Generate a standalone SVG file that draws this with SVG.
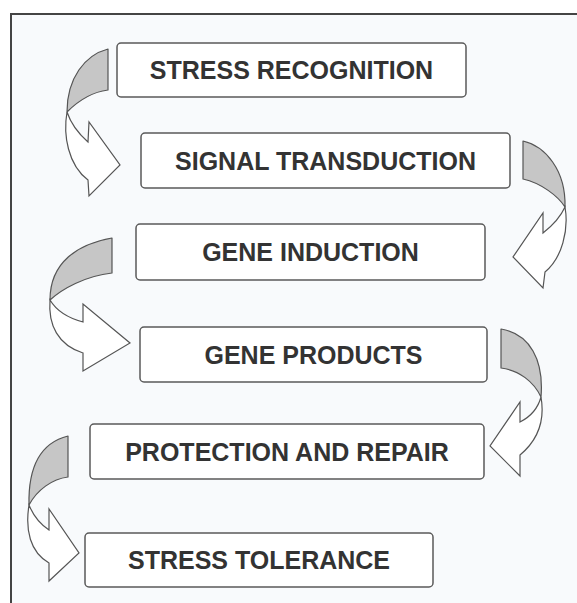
<svg xmlns="http://www.w3.org/2000/svg" width="577" height="603" viewBox="0 0 577 603">
<style>
.box{fill:#ffffff;stroke:#5a5a5a;stroke-width:1.5}
.lbl{font-family:"Liberation Sans",Arial,sans-serif;font-weight:bold;font-size:25px;fill:#333333;text-anchor:middle}
.back{fill:#c6c6c6;stroke:#555555;stroke-width:1.2;stroke-linejoin:round}
.front{fill:#ffffff;stroke:#555555;stroke-width:1.2;stroke-linejoin:miter}
</style>
<rect x="0" y="0" width="577" height="603" fill="#ffffff"/>
<rect x="11" y="14" width="566" height="589" fill="#f8fafc"/>
<path d="M11,603 L11,14 L577,14" fill="none" stroke="#444444" stroke-width="2"/>

<g id="connectors">
  <g id="arrow1">
    <path class="back" d="M108,49 C85,55 67,78 67,112 C78,101 92,92 108,90 Z"/>
    <path class="front" d="M67,112 C63,135 68,165 88,180 L89,196 L120,165 L89,122 L88,142 C80,135 71,124 67,112 Z"/>
  </g>
  <g id="arrow2">
    <path class="back" d="M523,141 C545,146 566,170 565,207 C558,196 541,183 523,179 Z"/>
    <path class="front" d="M565,207 C569,230 562,258 545,272 L543,288 L513,257 L543,213 L543,233 C552,226 560,218 565,207 Z"/>
  </g>
  <g id="arrow3">
    <path class="back" d="M112,238 C78,244 50,262 50,300 C62,289 85,276 112,273 Z"/>
    <path class="front" d="M50,300 C48,325 58,345 83,353 L83,371 L130,343 L83,304 L83,322 C68,318 56,310 50,300 Z"/>
  </g>
  <g id="arrow4">
    <path class="back" d="M501,329 C530,334 544,360 541,397 C534,382 519,370 501,368 Z"/>
    <path class="front" d="M541,397 C545,420 538,440 520,455 L520,476 L490,446 L520,402 L520,422 C530,417 538,408 541,397 Z"/>
  </g>
  <g id="arrow5">
    <path class="back" d="M68,436 C44,442 28,462 29,505 C37,490 52,479 68,477 Z"/>
    <path class="front" d="M29,505 C25,530 30,552 49,563 L49,581 L79,553 L49,509 L49,530 C40,524 33,515 29,505 Z"/>
  </g>
</g>

<g id="n1"><rect class="box" x="117" y="43" width="349" height="54" rx="4"/><text class="lbl" x="291.5" y="79">STRESS RECOGNITION</text></g>
<g id="n2"><rect class="box" x="141" y="133" width="369" height="55" rx="4"/><text class="lbl" x="325.5" y="169.5">SIGNAL TRANSDUCTION</text></g>
<g id="n3"><rect class="box" x="136" y="224" width="349" height="56" rx="4"/><text class="lbl" x="310.5" y="261">GENE INDUCTION</text></g>
<g id="n4"><rect class="box" x="140" y="327" width="347" height="55" rx="4"/><text class="lbl" x="313.5" y="363.5">GENE PRODUCTS</text></g>
<g id="n5"><rect class="box" x="90" y="424" width="394" height="55" rx="4"/><text class="lbl" x="287" y="460.5">PROTECTION AND REPAIR</text></g>
<g id="n6"><rect class="box" x="85" y="533" width="348" height="54" rx="4"/><text class="lbl" x="259" y="569">STRESS TOLERANCE</text></g>
</svg>
